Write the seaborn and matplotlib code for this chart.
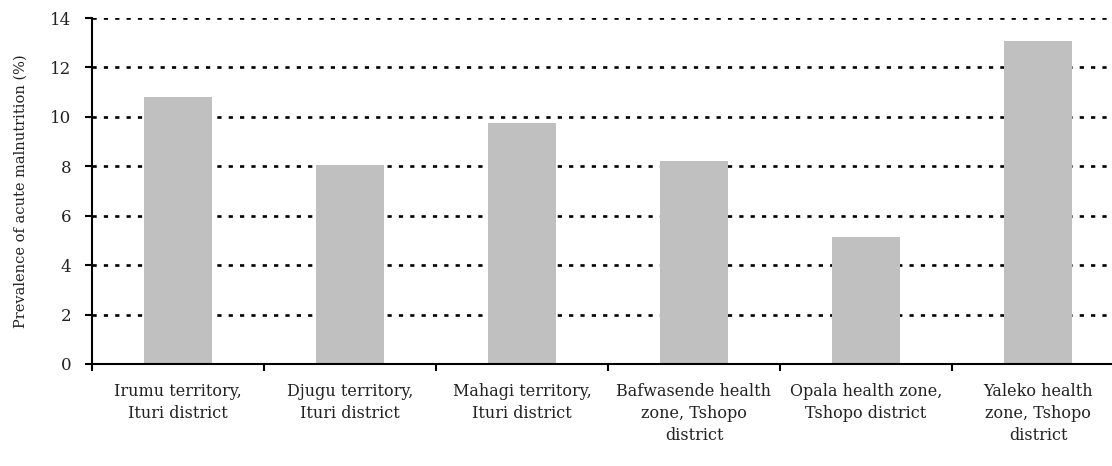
import seaborn as sns
import matplotlib.pyplot as plt
import pandas as pd
from matplotlib.ticker import FixedLocator, NullFormatter

# values
areas = [
    "Irumu territory,\nIturi district",
    "Djugu territory,\nIturi district",
    "Mahagi territory,\nIturi district",
    "Bafwasende health\nzone, Tshopo\ndistrict",
    "Opala health zone,\nTshopo district",
    "Yaleko health\nzone, Tshopo\ndistrict",
]
prevalence = [10.8, 8.05, 9.75, 8.2, 5.15, 13.05]
y_ticks = [0, 2, 4, 6, 8, 10, 12, 14]

df = pd.DataFrame({"area": areas, "prevalence": prevalence})

sns.set_style("white")
plt.rcParams["font.family"] = ["DejaVu Serif"]

fig = plt.figure(figsize=(11.12, 4.66), dpi=100)
ax = fig.add_axes([92 / 1112, 1 - 364 / 466, 1032 / 1112, 346 / 466])

# dotted grid lines behind the bars
for y in y_ticks[1:]:
    ax.axhline(y, color="black", lw=1.9, linestyle=(0, (1.6, 2.7)), zorder=0)

sns.barplot(data=df, x="area", y="prevalence", color="#C0C0C0",
            width=0.4, saturation=1, linewidth=0, ax=ax, zorder=2)

ax.set_xlim(-0.5, 5.5)
ax.set_ylim(0, 14)
ax.set_yticks(y_ticks)
ax.set_yticklabels([str(t) for t in y_ticks], fontsize=12, color="#222222")

# ticks on category boundaries, labels on category centres
ax.xaxis.set_major_locator(FixedLocator([i - 0.5 for i in range(len(areas) + 1)]))
ax.xaxis.set_major_formatter(NullFormatter())
ax.xaxis.set_minor_locator(FixedLocator(range(len(areas))))
ax.set_xticklabels(areas, minor=True, fontsize=11.5, linespacing=1.38,
                   color="#222222")
ax.tick_params(axis="x", which="major", direction="out", length=5, width=1.5,
               bottom=True, color="black")
ax.tick_params(axis="x", which="minor", length=0, pad=14)
ax.tick_params(axis="y", direction="out", length=5, width=1.5, left=True,
               color="black", pad=10)

ax.set_xlabel("")
ax.set_ylabel("Prevalence of acute malnutrition (%)", fontsize=10.5,
              labelpad=16, color="#222222")

for side in ["top", "right"]:
    ax.spines[side].set_visible(False)
for side in ["left", "bottom"]:
    ax.spines[side].set_color("black")
    ax.spines[side].set_linewidth(1.5)

fig.savefig("out.png", dpi=100)
